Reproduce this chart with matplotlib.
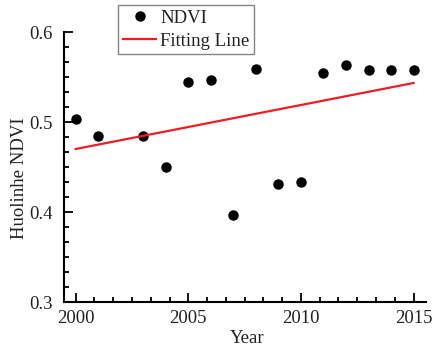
import numpy as np
import matplotlib
matplotlib.use("Agg")
import matplotlib.pyplot as plt
from matplotlib.ticker import MultipleLocator, AutoMinorLocator

# data
years = [2000, 2001, 2003, 2004, 2005, 2006, 2007, 2008,
         2009, 2010, 2011, 2012, 2013, 2014, 2015]
ndvi = [0.503, 0.485, 0.485, 0.450, 0.545, 0.547, 0.397, 0.559,
        0.431, 0.433, 0.555, 0.563, 0.558, 0.558, 0.558]

plt.rcParams['font.family'] = ['Liberation Serif', 'DejaVu Serif']
fs = 13.5

fig = plt.figure(figsize=(4.32, 3.51), dpi=100)
ax = fig.add_axes([0.148, 0.1396, 0.838, 0.7692])

# linear fit
k, b = np.polyfit(years, ndvi, 1)
fx = np.array([years[0], years[-1]])

ax.plot(years, ndvi, 'o', color='black', markersize=6.5, label='NDVI')
ax.plot(fx, k * fx + b, '-', color='#ee1c25', lw=1.6, label='Fitting Line')

ax.set_xlim(1999.48, 2015.55)
ax.set_ylim(0.3, 0.6)
ax.xaxis.set_major_locator(MultipleLocator(5))
ax.xaxis.set_minor_locator(AutoMinorLocator(6))
ax.yaxis.set_major_locator(MultipleLocator(0.1))
ax.yaxis.set_minor_locator(AutoMinorLocator(6))

for s in ['top', 'right']:
    ax.spines[s].set_visible(False)
for s in ['left', 'bottom']:
    ax.spines[s].set_linewidth(1.5)

ax.tick_params(which='both', direction='in', width=1.3, labelsize=fs,
               colors='black', labelcolor='#222222')
ax.tick_params(which='major', length=6.5)
ax.tick_params(which='minor', length=3.5)
ax.tick_params(axis='y', which='major', pad=8)
ax.tick_params(axis='x', which='major', pad=6)
ax.xaxis.set_major_formatter(plt.FuncFormatter(lambda v, p: f"{int(round(v))}"))
ax.yaxis.set_major_formatter(plt.FuncFormatter(lambda v, p: f"{v:.1f}"))

ax.set_xlabel('Year', fontsize=fs, color='#222222')
ax.set_ylabel('Huolinhe NDVI', fontsize=fs, color='#222222')
ax.xaxis.set_label_coords(0.507, -0.103)
ax.yaxis.set_label_coords(-0.1, 0.46)

leg = fig.legend(loc='upper left', bbox_to_anchor=(118 / 432, 1 - 5 / 351),
                 frameon=True, fancybox=False, edgecolor='#666666',
                 fontsize=fs, handlelength=1.8, handletextpad=0.2,
                 borderpad=0.25, labelspacing=0.3, borderaxespad=0)
leg.get_frame().set_linewidth(1.0)
for t in leg.get_texts():
    t.set_color('#222222')

fig.savefig('out.png', dpi=100)
